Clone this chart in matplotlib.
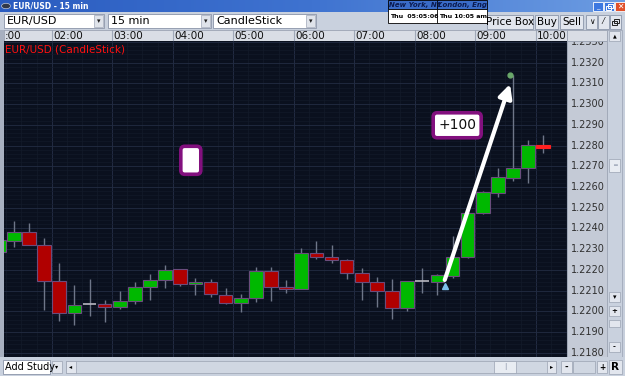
import numpy as np
import matplotlib
matplotlib.use("Agg")
import matplotlib.pyplot as plt
from matplotlib.patches import Rectangle, FancyBboxPatch

# ── Data (15-min EUR/USD candles) ──────────────────────────────────────────────
times = ["01:00", "01:15", "01:30", "01:45", "02:00", "02:15", "02:30", "02:45",
         "03:00", "03:15", "03:30", "03:45", "04:00", "04:15", "04:30", "04:45",
         "05:00", "05:15", "05:30", "05:45", "06:00", "06:15", "06:30", "06:45",
         "07:00", "07:15", "07:30", "07:45", "08:00", "08:15", "08:30", "08:45",
         "09:00", "09:15", "09:30", "09:45", "10:00"]
opens  = [1.22284, 1.22341, 1.22381, 1.22320, 1.22146, 1.21993, 1.22033, 1.22033,
          1.22019, 1.22051, 1.22115, 1.22151, 1.22202, 1.22130, 1.22141, 1.22080,
          1.22041, 1.22062, 1.22193, 1.22115, 1.22109, 1.22281, 1.22260, 1.22247,
          1.22185, 1.22143, 1.22098, 1.22017, 1.22146, 1.22143, 1.22172, 1.22263,
          1.22474, 1.22570, 1.22643, 1.22694, 1.22801]
highs  = [1.22350, 1.22436, 1.22425, 1.22355, 1.22234, 1.22127, 1.22156, 1.22054,
          1.22099, 1.22141, 1.22180, 1.22223, 1.22205, 1.22159, 1.22156, 1.22111,
          1.22082, 1.22215, 1.22212, 1.22151, 1.22304, 1.22341, 1.22318, 1.22250,
          1.22207, 1.22164, 1.22156, 1.22148, 1.22210, 1.22180, 1.22363, 1.22480,
          1.22580, 1.22691, 1.23141, 1.22825, 1.22852]
lows   = [1.22270, 1.22312, 1.22318, 1.22006, 1.21954, 1.21933, 1.21977, 1.21949,
          1.22009, 1.22036, 1.22054, 1.22111, 1.22122, 1.22077, 1.22070, 1.22036,
          1.21995, 1.22046, 1.22051, 1.22089, 1.22107, 1.22251, 1.22231, 1.22154,
          1.22054, 1.22022, 1.21962, 1.22003, 1.22089, 1.22078, 1.22159, 1.22255,
          1.22470, 1.22554, 1.22627, 1.22619, 1.22763]
closes = [1.22344, 1.22383, 1.22320, 1.22146, 1.21993, 1.22030, 1.22033, 1.22019,
          1.22049, 1.22115, 1.22151, 1.22200, 1.22130, 1.22141, 1.22082, 1.22041,
          1.22064, 1.22193, 1.22115, 1.22107, 1.22281, 1.22260, 1.22249, 1.22185,
          1.22143, 1.22098, 1.22017, 1.22146, 1.22146, 1.22173, 1.22263, 1.22473,
          1.22575, 1.22646, 1.22694, 1.22801, 1.22788]

hour_labels = ["02:00", "03:00", "04:00", "05:00", "06:00",
               "07:00", "08:00", "09:00", "10:00"]
price_ticks = [1.2180, 1.2190, 1.2200, 1.2210, 1.2220, 1.2230, 1.2240, 1.2250,
               1.2260, 1.2270, 1.2280, 1.2290, 1.2300, 1.2310, 1.2320, 1.2330]

# drawings on the chart
arrow_start = (8.496, 1.22151)
arrow_end   = (9.575, 1.23097)
marker_pt   = (8.495, 1.22122)
dot_pt      = (9.583, 1.23141)
note_text   = "+100"
note_center = (8.702, 1.22898)
blank_center = (4.299, 1.22729)

XLIM = (1.2116, 10.517)
YLIM = (1.21779, 1.23305)

W, H = 625, 376
fig = plt.figure(figsize=(W / 100, H / 100), dpi=100)
fig.patch.set_facecolor("#c7cfdc")


def rect(x, y, w, h, fc, ec="none", lw=0.8, z=1):
    fig.patches.append(Rectangle((x / W, 1 - (y + h) / H), w / W, h / H,
                                 transform=fig.transFigure, fc=fc, ec=ec, lw=lw,
                                 zorder=z, figure=fig))


def label(x, y, s, **kw):
    kw.setdefault("va", "center")
    kw.setdefault("fontsize", 7.5)
    fig.text(x / W, 1 - y / H, s, **kw)


def restore_icon(x, y, col, z=5):
    # two overlapping little windows
    rect(x + 2, y, 5, 4, "none", ec=col, lw=0.7, z=z)
    rect(x, y + 2, 5, 4, "none", ec=col, lw=0.7, z=z)


def hx(t):
    hh, mm = t.split(":")
    return int(hh) + int(mm) / 60


# ── Title bar ──────────────────────────────────────────────────────────────────
tb = fig.add_axes([0, 1 - 12 / H, 1, 12 / H])
tb.imshow(np.linspace(0, 1, 256)[None, :], aspect="auto", extent=[0, 1, 0, 1],
          cmap=matplotlib.colors.LinearSegmentedColormap.from_list(
              "t", ["#2a5cc0", "#3f73d0", "#6c9ce2"]))
tb.axis("off")
fig.patches.append(matplotlib.patches.Circle((6 / W, 1 - 6 / H), 4.5 / W,
                   transform=fig.transFigure, fc="#303848", ec="#c0c8d8", lw=0.5,
                   figure=fig, zorder=3))
label(13, 6, "EUR/USD - 15 min", color="white", fontsize=5.5, fontweight="bold", zorder=4)
for x0, c in [(593, "#3c78e0"), (604, "#3c78e0"), (615, "#e0502a")]:
    rect(x0, 2, 10, 9, c, ec="white", lw=0.6, z=3)
label(598, 7.5, "_", color="white", fontsize=5, ha="center", zorder=4)
restore_icon(606, 3.5, "white")
label(620, 6.5, "✕", color="white", fontsize=5.5, ha="center", fontweight="bold", zorder=4)

# ── Toolbar ────────────────────────────────────────────────────────────────────
rect(0, 12, W, 18, "#c9d1de")
for x0, w, txt in [(4, 100, "EUR/USD"), (108, 103, "15 min"), (213, 103, "CandleStick")]:
    rect(x0, 14, w, 14, "white", ec="#8a94a8", lw=0.6)
    rect(x0 + w - 10, 15, 9, 12, "#dfe3ea", ec="#a0a8b8", lw=0.5)
    label(x0 + w - 5.5, 21, "▾", ha="center", fontsize=5, color="#202020")
    label(x0 + 3, 21, txt, color="black", fontsize=8)

# clocks
for x0, city, tm in [(388, "New York, NY", "Thu  05:05:06"), (437, "London, Eng", "Thu 10:05 am")]:
    rect(x0, 0, 50, 9, "#3a6cc8", ec="black", lw=0.6, z=3)
    rect(x0, 9, 50, 14, "white", ec="black", lw=0.6, z=3)
    label(x0 + 1, 4.5, city, color="#0a1a50", fontsize=5, fontstyle="italic",
          fontweight="bold", zorder=4)
    label(x0 + 2, 16, tm, color="black", fontsize=4.5, fontweight="bold", zorder=4)

for x0, w, txt in [(487, 46, "Price Box"), (535, 23, "Buy"), (560, 23, "Sell"),
                   (586, 11, "∨"), (598, 11, "⁄"), (610, 11, "")]:
    rect(x0, 15, w, 14, "#e2e6ee", ec="#8c96aa", lw=0.6)
    label(x0 + w / 2, 22, txt, ha="center", color="black",
          fontsize=7.5 if w > 15 else 5.5)
restore_icon(612, 19, "#202020")

# ── Time axis strip ────────────────────────────────────────────────────────────
rect(0, 30, 4, 328, "#a8b0c0")
axt = fig.add_axes([4 / W, 1 - 41 / H, 563 / W, 11 / H])
axt.set_facecolor("#d9dde5")
axt.set_xlim(*XLIM)
axt.set_ylim(0, 1)
axt.set_xticks([])
axt.set_yticks([])
for s in axt.spines.values():
    s.set_color("#9aa2b2")
    s.set_linewidth(0.6)
axt.text(0.0015, 0.45, ":00", transform=axt.transAxes, fontsize=7.5, va="center",
         ha="left", color="#101010")
for lab in hour_labels:
    xv = hx(lab)
    axt.axvline(xv, color="#a0a8b8", lw=0.8)
    axt.text(xv + 0.02, 0.45, lab, fontsize=7.5, va="center", ha="left",
             color="#101010", clip_on=True)
rect(567, 30, 40, 11, "#d9dde5", ec="#9aa2b2", lw=0.6)

# ── Main chart ─────────────────────────────────────────────────────────────────
ax = fig.add_axes([4 / W, 1 - 357 / H, 563 / W, 316 / H])
ax.set_facecolor("#0a101e")
ax.set_xlim(*XLIM)
ax.set_ylim(*YLIM)
ax.set_xticks([])
ax.set_yticks([])
for s in ax.spines.values():
    s.set_visible(False)

for v in np.arange(1.0, 11.0, 0.25):
    major = abs(v - round(v)) < 1e-6
    ax.axvline(v, color="#263048" if major else "#151d2e", lw=0.6 if major else 0.4, zorder=0)
for p in np.arange(1.2170, 1.2335, 0.0002):
    major = abs(p * 1000 - round(p * 1000)) < 1e-6
    ax.axhline(p, color="#222c42" if major else "#131b2b", lw=0.6 if major else 0.4, zorder=0)

xs = np.array([hx(t) + 0.125 for t in times])
o = np.array(opens); c = np.array(closes)
hi = np.array(highs); lo = np.array(lows)
bw = 0.226

ax.vlines(xs, lo, hi, color="#6e7688", lw=1.0, zorder=2)
for i in range(len(xs)):
    if abs(c[i] - o[i]) < 1e-6:
        ax.hlines(o[i], xs[i] - bw / 2, xs[i] + bw / 2, color="#b8b8c0", lw=1.2, zorder=3)
        continue
    if i == len(xs) - 1:
        fc, ec = "#ff2020", "#ff2020"
    else:
        fc = "#00b800" if c[i] > o[i] else "#b00000"
        ec = "#6a4c7c"
    ax.bar(xs[i], c[i] - o[i], bottom=o[i], width=bw, color=fc, edgecolor=ec,
           lw=0.8, zorder=3)

ax.text(0.002, 0.988, "EUR/USD (CandleStick)", transform=ax.transAxes, color="#ff1010",
        fontsize=7.5, va="top", ha="left")

# arrow + markers
ax.annotate("", xy=arrow_end, xytext=arrow_start, zorder=6,
            arrowprops=dict(arrowstyle="-|>,head_length=0.8,head_width=0.4",
                            color="white", lw=3.0, shrinkA=0, shrinkB=0))
ax.plot(*marker_pt, marker="^", color="#7cc0ea", ms=4.5, zorder=5)
ax.plot(*dot_pt, "o", color="#6aa86a", ms=3.5, zorder=5)

# note boxes (size in pixels converted to data units)
px_x = 1 / 60.5
px_y = 1 / 20710
asp = px_y / px_x
bw_n, bh_n = 48 * px_x, 25 * px_y
ax.add_patch(FancyBboxPatch((note_center[0] - bw_n / 2, note_center[1] - bh_n / 2), bw_n, bh_n,
                            boxstyle="round,pad=0,rounding_size=%f" % (4 * px_x),
                            mutation_aspect=asp, fc="white", ec="#82107e", lw=2.6, zorder=7))
ax.text(*note_center, note_text, ha="center", va="center", fontsize=10, color="#101010", zorder=8)
bw_b, bh_b = 20 * px_x, 28 * px_y
ax.add_patch(FancyBboxPatch((blank_center[0] - bw_b / 2, blank_center[1] - bh_b / 2), bw_b, bh_b,
                            boxstyle="round,pad=0,rounding_size=%f" % (4 * px_x),
                            mutation_aspect=asp, fc="white", ec="#82107e", lw=2.6, zorder=7))

# ── Price axis ─────────────────────────────────────────────────────────────────
axp = fig.add_axes([567 / W, 1 - 357 / H, 40 / W, 316 / H])
axp.set_facecolor("#c4cad6")
axp.set_ylim(*YLIM)
axp.set_xlim(0, 1)
axp.set_xticks([])
axp.set_yticks([])
for s in axp.spines.values():
    s.set_color("#9aa2b2")
    s.set_linewidth(0.6)
for p in price_ticks:
    axp.text(0.52, p, "%.4f" % p, ha="center", va="center", fontsize=7,
             color="#303030", clip_on=True)

# right scroll bar
rect(607, 30, 15, 328, "#c9d1de", ec="#9aa2b2", lw=0.5)
rect(609, 31, 11, 10, "#e2e6ee", ec="#9aa2b2", lw=0.5)
label(614.5, 36, "▲", ha="center", fontsize=3.5, color="black")
rect(609, 159, 11, 13, "#e8ecf2", ec="#9aa2b2", lw=0.5)
label(614.5, 165.5, "═", ha="center", fontsize=4.5, color="#8a94a8")
for yy, s in [(297, "▾"), (311, "+"), (347, "-")]:
    rect(609, yy - 5, 11, 10, "#e2e6ee", ec="#9aa2b2", lw=0.5)
    label(614.5, yy, s, ha="center", fontsize=5, color="black", fontweight="bold")
rect(609, 320, 11, 7, "#e2e6ee", ec="#9aa2b2", lw=0.5)

# ── Bottom bar ─────────────────────────────────────────────────────────────────
rect(0, 357, W, 19, "#c9d1de")
rect(3, 360, 47, 14, "white", ec="#8a94a8", lw=0.6)
label(5, 367, "Add Study", color="black", fontsize=7)
rect(52, 361, 10, 12, "#e2e6ee", ec="#9aa2b2", lw=0.5)
label(57, 367, "▾", ha="center", fontsize=4.5, color="black")
rect(66, 361, 490, 12, "#d0d7e2", ec="#9aa2b2", lw=0.5)
rect(66, 361, 10, 12, "#e2e6ee", ec="#9aa2b2", lw=0.5)
label(71, 367, "◂", ha="center", fontsize=4.5, color="black")
rect(494, 361, 22, 12, "#e8ecf2", ec="#9aa2b2", lw=0.5)
label(505, 367, "|", ha="center", fontsize=5, color="#8a94a8")
rect(547, 361, 9, 12, "#e2e6ee", ec="#9aa2b2", lw=0.5)
label(551.5, 367, "▸", ha="center", fontsize=4.5, color="black")
rect(561, 361, 11, 12, "#e2e6ee", ec="#9aa2b2", lw=0.5)
label(566.5, 367, "-", ha="center", fontsize=6, color="black", fontweight="bold")
rect(573, 361, 22, 12, "#d0d7e2", ec="#9aa2b2", lw=0.5)
rect(597, 361, 10, 12, "#e2e6ee", ec="#9aa2b2", lw=0.5)
label(602, 367, "+", ha="center", fontsize=5.5, color="black", fontweight="bold")
rect(609, 360, 13, 14, "#e2e6ee", ec="#9aa2b2", lw=0.5)
label(615.5, 367, "R", ha="center", fontsize=7.5, color="black", fontweight="bold")

fig.savefig("out.png", dpi=100)
